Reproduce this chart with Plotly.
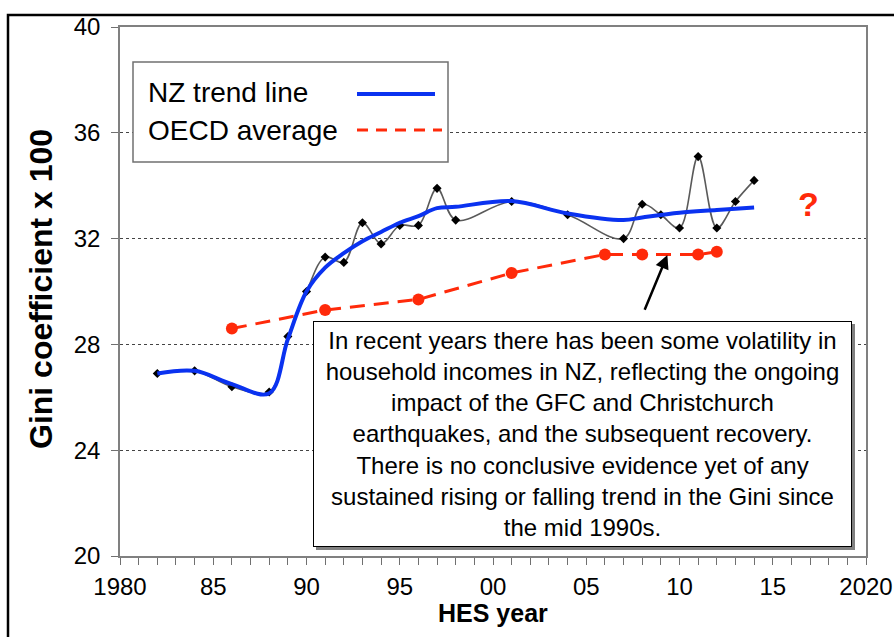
import plotly.graph_objects as go

# ---- data ----
nz_years = [1982, 1984, 1986, 1988, 1989, 1990, 1991, 1992, 1993, 1994, 1995, 1996, 1997, 1998,
            2001, 2004, 2007, 2008, 2009, 2010, 2011, 2012, 2013, 2014]
nz_gini = [26.9, 27.0, 26.4, 26.2, 28.3, 30.0, 31.3, 31.1, 32.6, 31.8, 32.5, 32.5, 33.9, 32.7,
           33.4, 32.9, 32.0, 33.3, 32.9, 32.4, 35.1, 32.4, 33.4, 34.2]

trend_years = [1982, 1984, 1986, 1988, 1989, 1990, 1991, 1992, 1993, 1994, 1995, 1996, 1997, 1998,
               2001, 2004, 2007, 2008, 2010, 2012, 2014]
trend_gini = [26.9, 27.0, 26.5, 26.15, 28.2, 30.0, 30.9, 31.45, 31.9, 32.25, 32.6, 32.85, 33.15, 33.2,
              33.42, 32.95, 32.7, 32.8, 32.98, 33.08, 33.18]

oecd_years = [1986, 1991, 1996, 2001, 2006, 2008, 2011, 2012]
oecd_gini = [28.6, 29.3, 29.7, 30.7, 31.4, 31.4, 31.4, 31.5]

x_label_alias = {"1985": "85", "1990": "90", "1995": "95", "2000": "00",
                 "2005": "05", "2010": "10", "2015": "15"}
y_tickvals = [20, 24, 28, 32, 36, 40]

note_text = ("In recent years there has been some volatility in<br>"
             "household incomes in NZ, reflecting the ongoing<br>"
             "impact of the GFC and Christchurch<br>"
             "earthquakes, and the subsequent recovery.<br>"
             "There is no conclusive evidence yet of any<br>"
             "sustained rising or falling trend in the Gini since<br>"
             "the mid 1990s.")

BLUE = "#0a32f0"
RED = "#ff2a0a"
SANS = "Liberation Sans, Arial, sans-serif"

fig = go.Figure()

fig.add_trace(go.Scatter(
    x=oecd_years, y=oecd_gini, mode="lines+markers",
    line=dict(color=RED, width=3, dash="15px,9px"),
    marker=dict(color=RED, size=12, symbol="circle"),
    name="OECD average", showlegend=False, hoverinfo="skip"))

fig.add_trace(go.Scatter(
    x=nz_years, y=nz_gini, mode="lines+markers",
    line=dict(color="#5a5a5a", width=1.6, shape="spline", smoothing=1.0),
    marker=dict(color="black", size=7, symbol="diamond"),
    name="NZ", showlegend=False, hoverinfo="skip"))

fig.add_trace(go.Scatter(
    x=trend_years, y=trend_gini, mode="lines",
    line=dict(color=BLUE, width=4, shape="spline", smoothing=1.0),
    name="NZ trend line", showlegend=False, hoverinfo="skip"))

L, R, T, B = 120, 28, 27, 81
W, H = 894, 637
pw, ph = W - L - R, H - T - B


def px(xp):
    return (xp - L) / pw


def py(yp):
    return (H - B - yp) / ph


shapes = [
    # outer black frame
    dict(type="path", xref="paper", yref="paper",
         path=f"M {px(8)},{py(700)} L {px(8)},{py(15)} L {px(900)},{py(15)}",
         line=dict(color="black", width=2.5)),
    # legend box
    dict(type="rect", xref="paper", yref="paper", x0=px(133), x1=px(448), y0=py(162), y1=py(62),
         line=dict(color="#707070", width=1.5), fillcolor="white", layer="above"),
    dict(type="line", xref="paper", yref="paper", x0=px(357), x1=px(435), y0=py(94), y1=py(94),
         line=dict(color=BLUE, width=4), layer="above"),
    dict(type="line", xref="paper", yref="paper", x0=px(357), x1=px(442), y0=py(130), y1=py(130),
         line=dict(color=RED, width=3, dash="11px,8px"), layer="above"),
    # shadow of note box
    dict(type="rect", xref="paper", yref="paper", x0=px(316), x1=px(855), y0=py(550), y1=py(324),
         line=dict(color="#808080", width=0), fillcolor="#808080", layer="above"),
]

annotations = [
    dict(xref="paper", yref="paper", x=px(146), y=py(93), xanchor="left", yanchor="middle",
         text="NZ trend line", showarrow=False, font=dict(family=SANS, size=28, color="black")),
    dict(xref="paper", yref="paper", x=px(146), y=py(130), xanchor="left", yanchor="middle",
         text="OECD average", showarrow=False, font=dict(family=SANS, size=28, color="black")),
    dict(xref="paper", yref="paper", x=px(582.5), y=py(434), xanchor="center", yanchor="middle",
         text=note_text, showarrow=False, align="center",
         width=533, height=220, borderpad=2,
         bgcolor="white", bordercolor="black", borderwidth=1,
         font=dict(family=SANS, size=24, color="black")),
    dict(x=2009.35, y=31.38, ax=2008.1, ay=29.25, xref="x", yref="y", axref="x", ayref="y",
         text="", showarrow=True, arrowhead=2, arrowsize=1.1, arrowwidth=2.5, arrowcolor="black"),
    dict(x=2016.9, y=33.3, xref="x", yref="y", text="<b>?</b>", showarrow=False,
         font=dict(family=SANS, size=34, color=RED)),
    # axis titles
    dict(xref="paper", yref="paper", x=px(493), y=py(613), xanchor="center", yanchor="middle",
         text="<b>HES year</b>", showarrow=False, font=dict(family=SANS, size=25, color="black")),
    dict(xref="paper", yref="paper", x=px(41), y=py(289), xanchor="center", yanchor="middle",
         text="<b>Gini coefficient x 100</b>", textangle=-90, showarrow=False,
         font=dict(family=SANS, size=32, color="black")),
]

fig.update_layout(
    width=W, height=H,
    margin=dict(l=L, r=R, t=T, b=B, autoexpand=False),
    paper_bgcolor="white", plot_bgcolor="white",
    showlegend=False, hovermode=False,
    shapes=shapes, annotations=annotations,
    font=dict(family=SANS, color="black"),
)

fig.update_xaxes(
    range=[1980, 2020], tickmode="linear", tick0=1980, dtick=5,
    labelalias=x_label_alias,
    ticks="outside", ticklen=7, tickcolor="#707070", tickwidth=1.2,
    minor=dict(dtick=1, tick0=1980, ticks="outside", ticklen=7, tickcolor="#707070",
               tickwidth=1.2, showgrid=False),
    showline=True, linecolor="#808080", linewidth=1.5, mirror=True,
    showgrid=False, zeroline=False, automargin=False,
    tickfont=dict(family=SANS, size=24, color="black"),
    ticklabelstandoff=1,
)

fig.update_yaxes(
    range=[20, 40], tickvals=y_tickvals,
    ticks="outside", ticklen=7, tickcolor="#707070", tickwidth=1.2,
    showline=True, linecolor="#808080", linewidth=1.5, mirror=True,
    showgrid=True, gridcolor="#444444", gridwidth=1, griddash="3px,3px",
    zeroline=False, automargin=False,
    tickfont=dict(family=SANS, size=24, color="black"),
    ticklabelstandoff=6,
)

fig.write_html("out.html", config={"displayModeBar": False},
               post_script="document.body.style.margin='0';")
